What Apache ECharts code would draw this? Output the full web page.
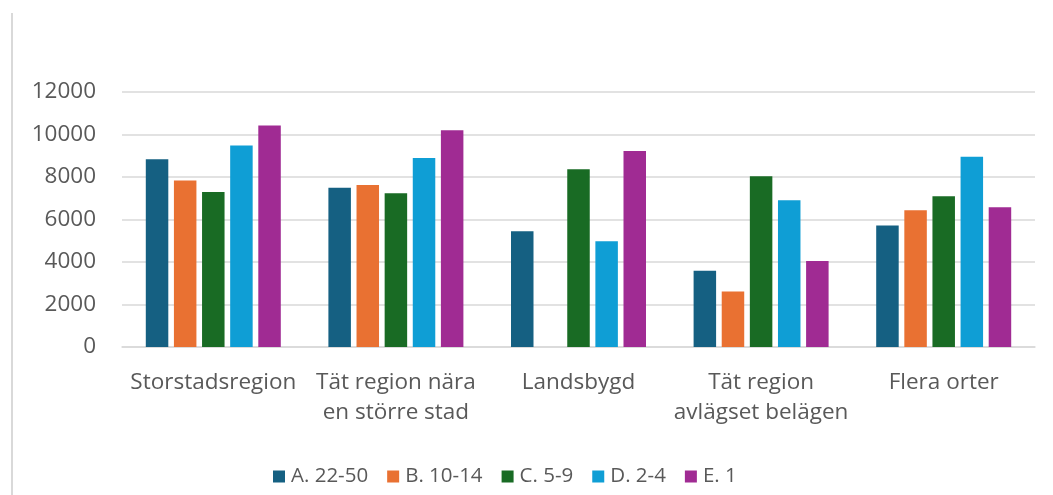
<!DOCTYPE html>
<html>
<head>
<meta charset="utf-8">
<script src="https://cdn.jsdelivr.net/npm/echarts@6/dist/echarts.min.js"></script>
<style>
html,body{margin:0;padding:0;background:#fff;}
#chart{width:1053px;height:495px;}
</style>
</head>
<body>
<div id="chart"></div>
<script>
var categories = ['Storstadsregion', 'Tät region nära\nen större stad', 'Landsbygd', 'Tät region\navlägset belägen', 'Flera orter'];
var seriesNames = ['A. 22-50', 'B. 10-14', 'C. 5-9', 'D. 2-4', 'E. 1'];
var seriesA = [8830, 7500, 5450, 3590, 5720];
var seriesB = [7840, 7620, null, 2610, 6440];
var seriesC = [7300, 7230, 8360, 8030, 7090];
var seriesD = [9480, 8890, 4980, 6910, 8950];
var seriesE = [10420, 10200, 9220, 4050, 6580];
var yTicks = [0, 2000, 4000, 6000, 8000, 10000, 12000];
var colors = ['#156082', '#E97132', '#196B24', '#0F9ED5', '#A02B93'];

var allData = [seriesA, seriesB, seriesC, seriesD, seriesE];
var fontFam = '"Open Sans", "Noto Sans", sans-serif';

var chart = echarts.init(document.getElementById('chart'), null, {renderer: 'canvas'});
chart.setOption({
  animation: false,
  backgroundColor: '#ffffff',
  color: colors,
  graphic: [{
    type: 'line',
    shape: {x1: 12, y1: 13, x2: 12, y2: 495},
    style: {stroke: '#D9D9D9', lineWidth: 2}
  }],
  grid: {left: 122, right: 18, top: 92, bottom: 148, containLabel: false},
  legend: {
    data: seriesNames,
    left: 268,
    top: 461,
    icon: 'rect',
    itemWidth: 12,
    itemHeight: 12,
    itemGap: 19,
    textStyle: {color: '#595959', fontSize: 20.5, fontFamily: fontFam, padding: [0, 0, 0, 1]}
  },
  xAxis: {
    type: 'category',
    data: categories,
    axisLine: {show: true, lineStyle: {color: '#D9D9D9', width: 1.5}},
    axisTick: {show: false},
    axisLabel: {color: '#595959', fontSize: 22.5, fontFamily: fontFam, lineHeight: 30, margin: 21, interval: 0}
  },
  yAxis: {
    type: 'value',
    min: yTicks[0],
    max: yTicks[yTicks.length - 1],
    interval: 2000,
    axisLine: {show: false},
    axisTick: {show: false},
    splitLine: {lineStyle: {color: '#D9D9D9', width: 1.5}},
    axisLabel: {color: '#595959', fontSize: 22.5, fontFamily: fontFam, margin: 26,
      formatter: function (v) { return String(v); }}
  },
  series: seriesNames.map(function (name, i) {
    return {
      name: name,
      type: 'bar',
      data: allData[i],
      barWidth: 22.5,
      barGap: '25%',
      itemStyle: {color: colors[i]}
    };
  })
});
</script>
</body>
</html>
